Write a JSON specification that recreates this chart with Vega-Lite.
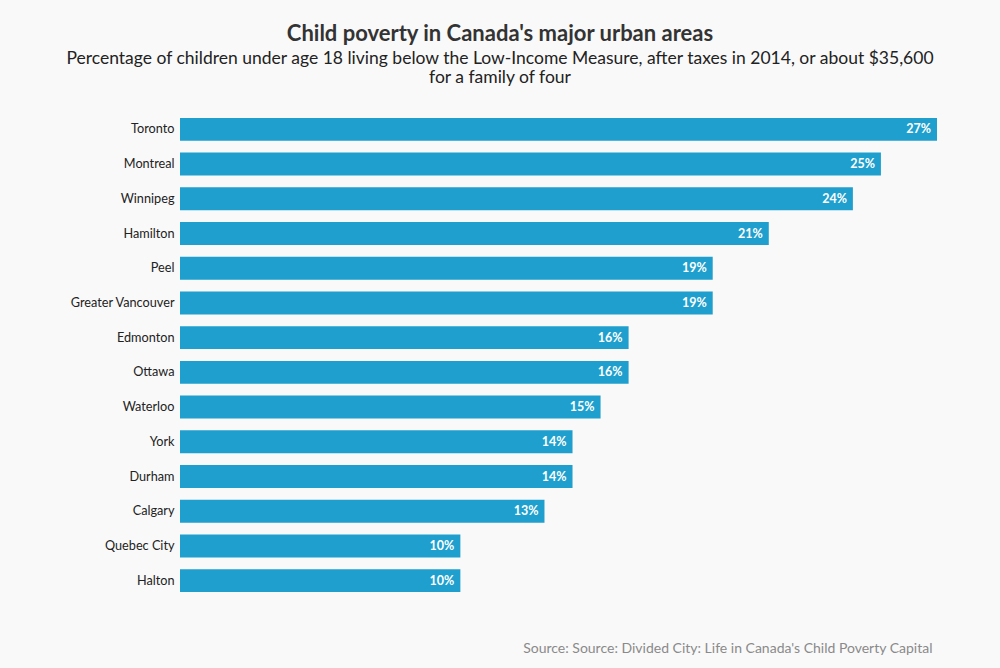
{
  "$schema": "https://vega.github.io/schema/vega-lite/v6.json",
  "width": 757,
  "height": 486,
  "autosize": {"type": "none"},
  "padding": {"left": 180, "top": 112, "right": 63, "bottom": 70},
  "background": "#f9f9f9",
  "config": {
    "view": {"stroke": null},
    "font": "Lato"
  },
  "title": {
    "text": "Child poverty in Canada's major urban areas",
    "subtitle": ["Percentage of children under age 18 living below the Low-Income Measure, after taxes in 2014, or about $35,600", "for a family of four"],
    "anchor": "middle",
    "frame": "group",
    "dx": -58.5,
    "offset": 25,
    "font": "Lato",
    "fontSize": 22,
    "fontWeight": "bold",
    "color": "#333333",
    "subtitleFont": "Lato",
    "subtitleFontSize": 17.5,
    "subtitleColor": "#222222",
    "subtitlePadding": 4,
    "subtitleLineHeight": 19
  },
  "data": {
    "values": [
      {"city": "Toronto", "rate": 0.27},
      {"city": "Montreal", "rate": 0.25},
      {"city": "Winnipeg", "rate": 0.24},
      {"city": "Hamilton", "rate": 0.21},
      {"city": "Peel", "rate": 0.19},
      {"city": "Greater Vancouver", "rate": 0.19},
      {"city": "Edmonton", "rate": 0.16},
      {"city": "Ottawa", "rate": 0.16},
      {"city": "Waterloo", "rate": 0.15},
      {"city": "York", "rate": 0.14},
      {"city": "Durham", "rate": 0.14},
      {"city": "Calgary", "rate": 0.13},
      {"city": "Quebec City", "rate": 0.10},
      {"city": "Halton", "rate": 0.10}
    ]
  },
  "encoding": {
    "y": {
      "field": "city",
      "type": "nominal",
      "sort": null,
      "scale": {"paddingInner": 0.34, "paddingOuter": 0.17},
      "axis": {
        "title": null,
        "domain": false,
        "ticks": false,
        "labelPadding": 6,
        "labelFontSize": 12.7,
        "labelColor": "#222222",
        "labelFont": "Lato"
      }
    },
    "x": {
      "field": "rate",
      "type": "quantitative",
      "scale": {"domain": [0, 0.27], "nice": false, "zero": true},
      "axis": {
        "title": "Source: Source: Divided City: Life in Canada's Child Poverty Capital",
        "titleAnchor": "end",
        "titleFont": "Lato",
        "titleFontSize": 14,
        "titleFontWeight": "normal",
        "titleColor": "#8a8a8a",
        "titleX": 752,
        "titleY": 43,
        "domain": false,
        "ticks": false,
        "labels": false,
        "grid": false
      }
    }
  },
  "layer": [
    {
      "mark": {"type": "bar", "color": "#1e9fce"}
    },
    {
      "mark": {"type": "text", "align": "right", "baseline": "middle", "dx": -6, "color": "white", "fontWeight": "bold", "fontSize": 12.5, "font": "Lato"},
      "encoding": {
        "text": {"field": "rate", "type": "quantitative", "format": ".0%"}
      }
    }
  ]
}
